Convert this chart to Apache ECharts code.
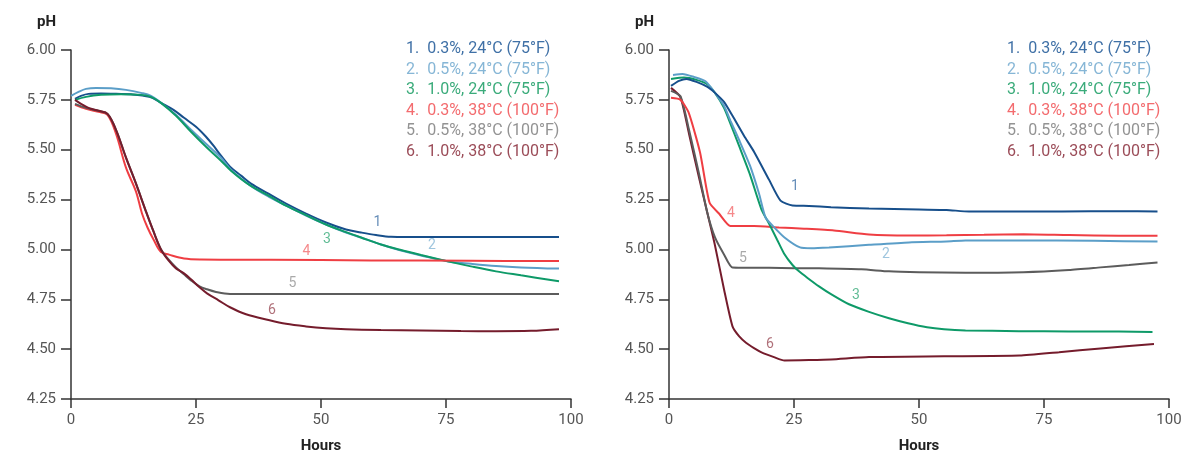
<!DOCTYPE html>
<html>
<head>
<meta charset="utf-8">
<script src="https://cdn.jsdelivr.net/npm/echarts@6/dist/echarts.min.js"></script>
<style>
html,body{margin:0;padding:0;background:#fff;}
#c{width:1204px;height:459px;}
</style>
</head>
<body>
<div id="c"></div>
<script>
// ---------- DATA ----------
const seriesNames = [
  "1.  0.3%, 24°C (75°F)",
  "2.  0.5%, 24°C (75°F)",
  "3.  1.0%, 24°C (75°F)",
  "4.  0.3%, 38°C (100°F)",
  "5.  0.5%, 38°C (100°F)",
  "6.  1.0%, 38°C (100°F)"
];
const curveIds = ["1","2","3","4","5","6"];
const xTicks = [0, 25, 50, 75, 100];
const yTicks = [4.25, 4.50, 4.75, 5.00, 5.25, 5.50, 5.75, 6.00];

// Left panel: [hours, pH]
const left1 = [[0.8,5.755],[2,5.77],[3.5,5.78],[6,5.782],[9,5.78],[12,5.778],[15.7,5.765],[18,5.735],[20.5,5.70],[22.6,5.66],[25,5.615],[27,5.565],[28.5,5.52],[30,5.47],[31.8,5.415],[34,5.37],[36,5.33],[39.5,5.28],[43,5.23],[47,5.18],[51,5.135],[55,5.10],[58,5.085],[61,5.072],[64,5.063],[67,5.062],[75,5.062],[85,5.062],[97.6,5.062]];
const left2 = [[0,5.77],[1.5,5.79],[3,5.805],[5,5.81],[8,5.808],[11,5.80],[14,5.785],[16,5.77],[18,5.735],[21,5.675],[24,5.60],[27,5.53],[30,5.46],[32,5.40],[35.6,5.325],[39.5,5.265],[43,5.22],[47,5.17],[51,5.125],[55,5.085],[58,5.06],[62,5.025],[66,4.995],[70,4.97],[75.4,4.94],[80,4.928],[85,4.917],[90,4.91],[97.6,4.904]];
const left3 = [[0.8,5.75],[3,5.765],[6,5.775],[10,5.778],[14,5.775],[16,5.765],[18,5.735],[21,5.67],[24,5.59],[27,5.515],[30,5.445],[32,5.395],[35.6,5.325],[39.5,5.27],[43,5.22],[47,5.172],[51,5.125],[55,5.087],[58,5.06],[62,5.025],[66,4.997],[70,4.972],[75.4,4.94],[80,4.915],[85,4.89],[90,4.87],[97.6,4.84]];
const left4 = [[0.8,5.725],[3,5.705],[5.5,5.69],[7.3,5.675],[9,5.58],[11,5.41],[13,5.29],[14.2,5.18],[15.3,5.11],[16.5,5.05],[18,4.987],[19.6,4.974],[22.6,4.955],[26,4.95],[40,4.948],[60,4.945],[80,4.943],[97.6,4.942]];
const left5 = [[0.8,5.73],[3,5.71],[5.5,5.695],[7.3,5.68],[9,5.60],[11,5.46],[13,5.33],[15,5.19],[16.5,5.09],[18,5.0],[19.5,4.95],[21,4.91],[22.6,4.875],[24,4.845],[25.7,4.815],[27.2,4.80],[29,4.787],[31.8,4.777],[40,4.776],[60,4.776],[80,4.776],[97.6,4.776]];
const left6 = [[0.8,5.75],[2,5.73],[3.5,5.71],[5.5,5.695],[7.3,5.68],[9,5.60],[11,5.46],[13,5.33],[15,5.19],[16.5,5.09],[18,5.0],[19.5,4.945],[21,4.905],[22.6,4.88],[24,4.85],[25.7,4.81],[27.2,4.78],[29.5,4.745],[31.8,4.71],[35,4.675],[39.5,4.646],[43,4.627],[47,4.614],[51,4.605],[55,4.60],[62,4.596],[70,4.594],[78,4.591],[85,4.59],[92,4.592],[97.6,4.60]];

// Right panel: [hours, pH]
const right1 = [[0.4,5.82],[2,5.845],[3.5,5.855],[5.5,5.84],[7.7,5.815],[9.2,5.785],[11,5.74],[12.7,5.67],[15,5.57],[17,5.49],[20,5.35],[22.3,5.245],[24.7,5.22],[28,5.218],[32.4,5.212],[40,5.205],[50,5.20],[55.5,5.198],[60,5.19],[70,5.19],[78.6,5.19],[90,5.192],[97.7,5.19]];
const right2 = [[0.8,5.875],[2.7,5.88],[5,5.865],[7.3,5.843],[9.2,5.785],[11,5.72],[12.3,5.645],[14,5.55],[16.2,5.42],[18,5.28],[19.3,5.16],[20.8,5.117],[23.1,5.06],[26.2,5.01],[28.5,5.006],[32,5.01],[40,5.023],[48,5.035],[55.5,5.04],[59.3,5.045],[70,5.045],[85,5.043],[97.7,5.04]];
const right3 = [[0.4,5.855],[3,5.862],[5.5,5.85],[7.7,5.827],[9.2,5.785],[11,5.71],[12.3,5.63],[14,5.52],[16.2,5.375],[18.5,5.2],[20,5.13],[21.6,5.05],[23,4.98],[24.7,4.922],[26,4.89],[27.7,4.857],[30,4.815],[32.4,4.776],[36,4.725],[40,4.687],[44,4.655],[47.8,4.63],[51.6,4.61],[55,4.60],[59.3,4.594],[70,4.59],[80,4.589],[90,4.588],[96.7,4.586]];
const right4 = [[0.4,5.76],[2.3,5.75],[3.9,5.688],[6.2,5.487],[8.1,5.235],[10,5.18],[12.3,5.117],[17,5.117],[22,5.11],[27,5.104],[33,5.095],[40,5.075],[48,5.07],[55.5,5.071],[63,5.073],[70.9,5.076],[80,5.072],[90,5.069],[97.7,5.068]];
const right5 = [[0.4,5.795],[2.3,5.768],[4,5.60],[6,5.38],[7.7,5.18],[9.2,5.06],[11,4.975],[12.7,4.91],[20,4.908],[25,4.906],[30,4.905],[38.5,4.90],[44,4.89],[50,4.886],[59.3,4.883],[70.9,4.886],[80,4.897],[86.3,4.91],[92,4.922],[97.7,4.935]];
const right6 = [[0.4,5.81],[2.3,5.763],[4,5.58],[6,5.36],[7.7,5.18],[9.2,5.02],[11,4.80],[12.7,4.614],[14,4.565],[15.4,4.532],[17,4.505],[18.5,4.484],[21,4.46],[23.1,4.443],[28,4.445],[32.4,4.448],[40,4.46],[55,4.464],[70.1,4.468],[78,4.485],[86.3,4.503],[97,4.526]];

// curve number annotations: [hours, pH]
const leftTags  = [[61.3,5.136],[72.2,5.019],[51.2,5.052],[47.1,4.99],[44.3,4.828],[40.2,4.695]];
const rightTags = [[25.2,5.314],[43.4,4.974],[37.4,4.768],[12.4,5.18],[14.8,4.955],[20.2,4.524]];

// ---------- STYLE ----------
const lineColors = ['#174f8b','#5b9ec8','#0e9a68','#ef3e43','#5c5c5c','#751c2c'];
const textColors = ['#3f70a6','#86b6d6','#3aab7a','#f36b6e','#939393','#9b4c58'];
const FONT = 'Roboto, "Noto Sans", sans-serif';

const leftData = [left1,left2,left3,left4,left5,left6];
const rightData = [right1,right2,right3,right4,right5,right6];

const grids = [
  {left:71, top:50, width:500, height:360},
  {left:669, top:50, width:500, height:360}
];

function xAxisFor(i){
  return {
    type:'value', gridIndex:i, min:xTicks[0], max:xTicks[xTicks.length-1], interval:25,
    name:'Hours', nameLocation:'middle', nameGap:40,
    nameTextStyle:{fontFamily:FONT, fontWeight:'bold', fontSize:15, color:'#222'},
    axisLine:{show:true, onZero:false, lineStyle:{color:'#333', width:1.5}},
    axisTick:{show:true, length:9, lineStyle:{color:'#333', width:1.5}},
    axisLabel:{fontFamily:FONT, fontSize:15, color:'#555', margin:14},
    splitLine:{show:false}
  };
}
function yAxisFor(i){
  return {
    type:'value', gridIndex:i, min:yTicks[0], max:yTicks[yTicks.length-1], interval:0.25,
    name:'pH', nameLocation:'end', nameGap:20,
    nameTextStyle:{fontFamily:FONT, fontWeight:'bold', fontSize:15, color:'#222', align:'right', padding:[0,15,0,0]},
    axisLine:{show:true, onZero:false, lineStyle:{color:'#333', width:1.5}},
    axisTick:{show:true, length:10, lineStyle:{color:'#333', width:1.5}},
    axisLabel:{fontFamily:FONT, fontSize:15, color:'#555', margin:15, formatter:v=>v.toFixed(2)},
    splitLine:{show:false}
  };
}

const series = [];
[leftData, rightData].forEach((set, gi) => {
  set.forEach((d, k) => {
    series.push({
      type:'line', name:seriesNames[k], xAxisIndex:gi, yAxisIndex:gi,
      data:d, showSymbol:false, symbol:'none',
      smooth: gi===0 ? 0.35 : 0.2,
      lineStyle:{color:lineColors[k], width:2},
      itemStyle:{color:lineColors[k]},
      z: 2 + (gi===0 ? k : 5-k)
    });
  });
  const tags = gi===0 ? leftTags : rightTags;
  series.push({
    type:'scatter', xAxisIndex:gi, yAxisIndex:gi, symbolSize:0, silent:true,
    data: tags.map((p,k)=>({value:p, label:{color:textColors[k]}})),
    label:{show:true, position:'inside', fontFamily:FONT, fontSize:14,
      formatter: (p)=>curveIds[p.dataIndex]},
    z:10
  });
});

function legendFor(left){
  return {
    orient:'vertical', left:left, top:36, icon:'none', itemWidth:0, itemHeight:14, itemGap:4.6,
    selectedMode:false,
    textStyle:{fontFamily:FONT, fontSize:16},
    data: seriesNames.map((n,k)=>({name:n, textStyle:{color:textColors[k]}}))
  };
}

const chart = echarts.init(document.getElementById('c'), null, {renderer:'canvas'});
chart.setOption({
  animation:false,
  backgroundColor:'#fff',
  grid:grids,
  xAxis:[xAxisFor(0), xAxisFor(1)],
  yAxis:[yAxisFor(0), yAxisFor(1)],
  legend:[legendFor(396), legendFor(997)],
  series:series
});
</script>
</body>
</html>
